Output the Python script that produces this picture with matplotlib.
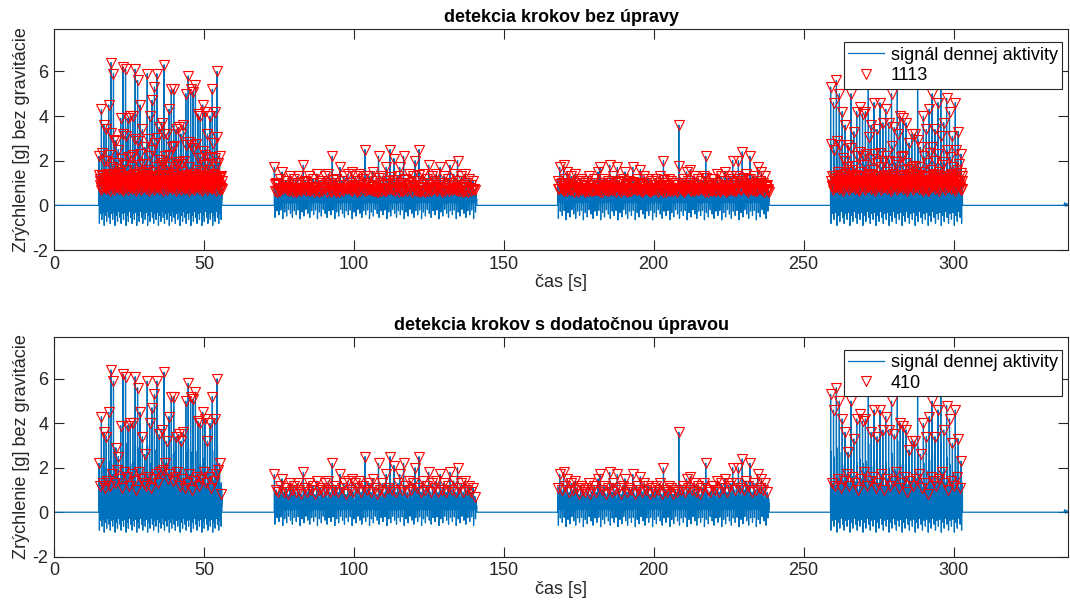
import numpy as np
import matplotlib
matplotlib.use('Agg')
import matplotlib.pyplot as plt

plt.rcParams['font.family'] = ['Liberation Sans', 'DejaVu Sans']
plt.rcParams['axes.unicode_minus'] = False

# useky chodze [s]
seg_start = [15.0, 73.5, 168.0, 259.0]
seg_end = [56.0, 141.0, 238.5, 303.0]
seg_body = [1.0, 0.6, 0.65, 1.0]  # amplituda vyplne signalu v useku
seg_negs = [0.9, 0.6, 0.65, 0.9]  # hlbka zapornych spicok

# vysky krokov (odcitane z grafu)
seg1_tall = [2.2, 4.3, 3.6, 3.4, 4.5, 6.4, 5.9, 2.9, 2.5, 3.9,
             6.2, 6.1, 3.9, 4.0, 4.0, 6.1, 5.6, 4.5, 3.4, 2.6,
             5.9, 4.0, 4.7, 5.3, 5.9, 3.5, 3.7, 6.3, 3.2, 4.3,
             5.2, 5.2, 3.4, 3.5, 3.2, 3.6, 5.0, 5.8, 5.2, 5.1,
             5.4, 4.1, 4.0, 4.5, 4.2, 3.2, 4.0, 5.2, 4.2, 6.0, 2.2]
seg1_low = [1.2, 1.3, 1.1, 1.4, 1.2, 1.7, 1.3, 1.9, 1.5, 1.1,
            1.8, 1.6, 1.2, 1.7, 1.4, 1.0, 1.8, 1.5, 1.3, 1.2,
            1.6, 1.1, 1.5, 1.7, 1.3, 1.8, 1.9, 2.2, 1.5, 1.7,
            1.4, 1.6, 1.8, 1.2, 1.5, 1.1, 1.3, 1.7, 1.0, 1.4,
            1.6, 1.2, 1.5, 1.8, 1.3, 1.6, 1.1, 1.4, 1.7, 1.9, 0.8]
seg2_steps = [1.7, 1.0, 0.9, 1.2, 1.5, 0.9, 1.1, 0.8, 1.3, 1.0,
              1.2, 0.9, 1.3, 1.0, 0.8, 1.8, 1.1, 0.9, 1.3, 1.0,
              1.2, 0.8, 1.4, 1.0, 1.1, 0.9, 1.3, 1.0, 1.4, 0.9,
              2.2, 1.0, 1.2, 0.9, 1.7, 1.1, 1.3, 0.8, 1.4, 1.0,
              1.5, 0.9, 1.3, 1.1, 1.4, 0.9, 1.2, 2.5, 1.0, 1.3,
              0.9, 1.5, 1.1, 0.8, 2.2, 1.0, 1.3, 0.9, 1.7, 1.1,
              2.5, 1.0, 2.1, 0.9, 1.3, 1.7, 1.0, 2.2, 1.2, 0.9,
              1.4, 1.0, 1.3, 2.0, 1.1, 2.5, 0.9, 1.4, 1.0, 1.2,
              1.8, 0.9, 1.3, 1.1, 1.4, 0.9, 1.7, 1.0, 1.3, 0.9,
              1.2, 1.8, 1.0, 1.4, 0.9, 2.0, 1.1, 1.3, 0.9, 1.4,
              1.0, 1.2, 0.9, 1.1, 0.7]
seg3_steps = [1.1, 1.7, 1.0, 1.8, 1.2, 1.5, 0.9, 1.3, 1.0, 1.4,
              1.1, 0.8, 1.2, 1.0, 0.9, 1.1, 1.3, 0.8, 1.0, 1.2,
              0.9, 1.5, 1.7, 1.0, 1.2, 0.8, 1.1, 1.8, 0.9, 1.3,
              1.0, 1.7, 1.1, 0.8, 1.2, 1.5, 0.9, 1.1, 1.0, 1.7,
              0.8, 1.2, 1.0, 1.6, 0.9, 1.3, 1.0, 1.2, 0.8, 1.1,
              0.9, 1.2, 1.0, 1.3, 0.8, 2.0, 1.0, 0.9, 1.2, 1.1,
              0.8, 1.0, 0.9, 3.6, 1.0, 1.2, 0.9, 1.5, 1.1, 1.6,
              1.0, 1.3, 0.9, 1.2, 0.8, 1.1, 1.3, 2.2, 1.0, 0.9,
              1.2, 1.2, 1.0, 1.4, 0.9, 1.3, 1.1, 1.5, 0.9, 1.2,
              1.3, 2.0, 1.0, 1.3, 2.0, 1.1, 2.4, 1.0, 1.4, 1.2,
              2.2, 0.9, 1.3, 1.0, 1.7, 1.1, 1.5, 1.0, 1.3, 0.9]
seg4_tall = [5.3, 4.6, 5.6, 5.0, 4.2, 3.6, 2.7, 5.0, 3.3, 4.2,
             4.4, 4.1, 4.2, 6.0, 3.6, 4.6, 3.4, 4.6, 3.7, 4.3,
             3.7, 5.0, 3.5, 6.2, 4.0, 3.9, 3.7, 2.8, 3.2, 3.2,
             5.9, 2.6, 4.0, 3.4, 4.3, 5.0, 3.4, 4.6, 6.1, 3.7,
             4.8, 4.2, 3.1, 4.6, 3.3, 2.3]
seg4_low = [1.3, 1.2, 1.5, 1.1, 1.4, 1.7, 1.2, 1.6, 1.3, 1.0,
            1.5, 1.8, 1.2, 1.4, 1.6, 1.1, 1.3, 1.7, 1.0, 1.5,
            1.2, 1.4, 1.8, 1.1, 1.3, 1.6, 0.9, 1.4, 1.2, 1.5,
            1.7, 1.1, 1.3, 0.8, 1.6, 1.4, 1.2, 1.5, 1.8, 1.3,
            1.0, 1.4, 1.2, 1.6, 1.1]

# tvar jedneho kroku (12 vzoriek)
step_peak = [1, 0, 0, 0.45, 0, 0, 0, 0, 0, 0, 0, 0]
step_body = [0, 0.3, 0.6, 0.35, 0, 0.4, 1.1, 0.45, 0.2, 0.9, 0.35, 0.6]
step_neg = [0, 0, 0, 0, -1, 0, 0, 0, 0, 0, 0, 0]
body_var = [1.0, 0.75, 1.2, 0.9, 1.1, 0.8, 1.25, 0.95, 0.7, 1.15, 1.05]
neg_var = [0.9, 0.4, 0.7, 0.35, 1.0, 0.5, 0.8, 0.3, 0.6]

# maly pohyb na konci zaznamu
tail_t = [336.8, 337.1, 337.4, 337.7, 338.3]
tail_v = [0.0, 0.12, -0.05, 0.08, 0.02]

legend_top = '1113'
legend_bot = '410'


def interleave(a, b):
    out = []
    for i in range(len(a)):
        out.append(a[i])
        if i < len(b):
            out.append(b[i])
    return out


steps = [interleave(seg1_tall, seg1_low), seg2_steps, seg3_steps,
         interleave(seg4_tall, seg4_low)]

#poskladam signal
t_sig = [0.0]
v_sig = [0.0]
step_t = []
step_v = []
for s in range(4):
    h = steps[s]
    dt = (seg_end[s] - seg_start[s]) / len(h)
    t_sig.append(seg_start[s] - 0.05)
    v_sig.append(0.0)
    for j, hj in enumerate(h):
        for k in range(12):
            t_sig.append(seg_start[s] + (j + k / 12) * dt)
            v_sig.append(hj * step_peak[k] + seg_body[s] * body_var[j % 11] * step_body[k]
                         + seg_negs[s] * neg_var[j % 9] * step_neg[k])
        step_t.append(seg_start[s] + j * dt)
        step_v.append(hj)
    t_sig.append(seg_end[s])
    v_sig.append(0.0)
t_sig += tail_t
v_sig += tail_v
t_sig = np.array(t_sig)
v_sig = np.array(v_sig)

#vsetky lokalne maxima nad prahom
idx = np.where((v_sig[1:-1] > v_sig[:-2]) & (v_sig[1:-1] >= v_sig[2:]) & (v_sig[1:-1] > 0.6))[0] + 1

fig = plt.figure(figsize=(10.7, 6.12), dpi=100)
ax1 = fig.add_axes([0.0505, 0.5915, 0.948, 0.361])
ax2 = fig.add_axes([0.0505, 0.0904, 0.948, 0.3595])

gray = '#262626'
fs = 13
for ax, mt, mv, lab, tit in [(ax1, t_sig[idx], v_sig[idx], legend_top, 'detekcia krokov bez úpravy'),
                             (ax2, step_t, step_v, legend_bot, 'detekcia krokov s dodatočnou úpravou')]:
    ax.plot(t_sig, v_sig, color='#0072BD', linewidth=0.9, label='signál dennej aktivity')
    ax.plot(mt, mv, 'v', mfc='none', mec='red', ms=7.5, mew=0.8, label=lab)
    ax.set_xlim(0, 338.3)
    ax.set_ylim(-2, 7.9)
    ax.set_xticks([0, 50, 100, 150, 200, 250, 300])
    ax.set_yticks([-2, 0, 2, 4, 6])
    ax.tick_params(direction='in', top=True, right=True, length=7, width=0.8,
                   labelsize=fs, colors=gray, pad=4)
    for sp in ax.spines.values():
        sp.set_color(gray)
        sp.set_linewidth(0.8)
    ax.set_xlabel('čas [s]', fontsize=fs, color=gray, labelpad=1)
    ax.set_ylabel('Zrýchlenie [g] bez gravitácie', fontsize=fs, color=gray, labelpad=2)
    ax.set_title(tit, fontsize=fs, fontweight='bold', pad=5)
    leg = ax.legend(loc='upper right', bbox_to_anchor=(0.994, 0.941), fontsize=fs,
                    fancybox=False, framealpha=1, edgecolor=gray, handlelength=2.0,
                    borderpad=0.25, labelspacing=0.2, handletextpad=0.35, borderaxespad=0)
    leg.get_frame().set_linewidth(0.8)

plt.savefig('out.png', dpi=100)
